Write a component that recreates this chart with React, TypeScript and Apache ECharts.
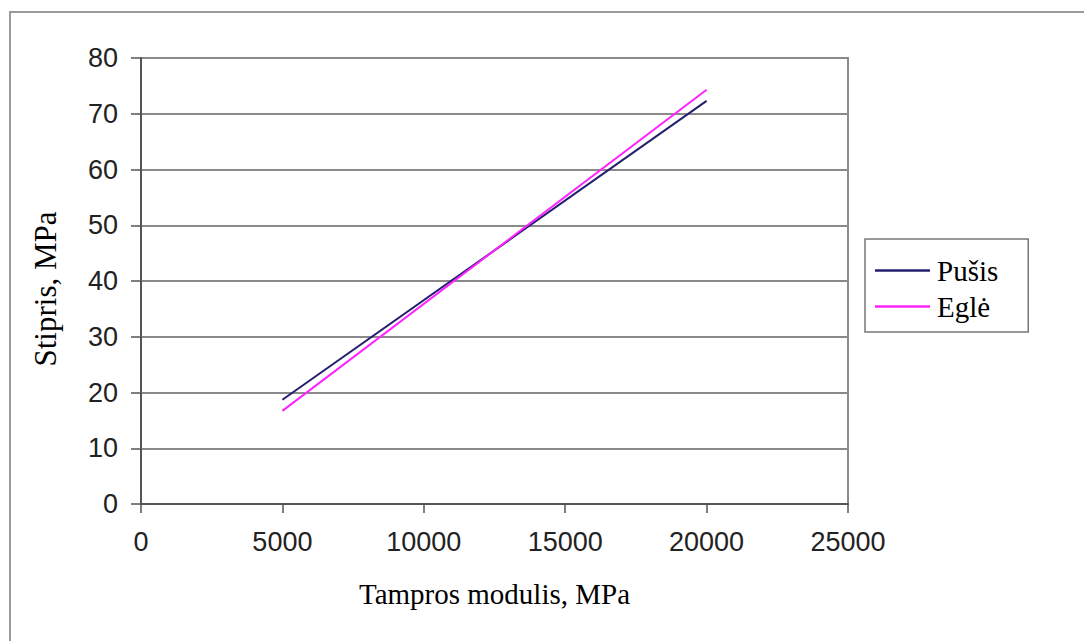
import React, { useEffect, useRef } from "react";
import * as echarts from "echarts";

const xValues = [5000, 20000];
const pusisValues = [18.7, 72.3];
const egleValues = [16.7, 74.3];
const seriesNames = ["Pušis", "Eglė"];
const seriesColors = ["#22206e", "#ff22ff"];

export default function App() {
  const ref = useRef<HTMLDivElement>(null);
  useEffect(() => {
    if (!ref.current) return;
    const chart = echarts.init(ref.current, null, { renderer: "svg" });
    const toPairs = (ys: number[]) => xValues.map((x, i) => [x, ys[i]]);
    chart.setOption({
      animation: false,
      backgroundColor: "#ffffff",
      graphic: [
        {
          type: "rect",
          shape: { x: 10, y: 12, width: 1200, height: 800 },
          style: { fill: "none", stroke: "#9a9a9a", lineWidth: 2 },
          silent: true,
        },
      ],
      grid: {
        left: 141,
        right: 236,
        top: 58,
        bottom: 137,
        show: true,
        borderColor: "#8a8a8a",
        borderWidth: 2,
        backgroundColor: "transparent",
      },
      legend: {
        orient: "vertical",
        left: 865,
        top: 239,
        data: seriesNames.map((n) => ({ name: n, icon: "rect" })),
        itemWidth: 55,
        itemHeight: 2.5,
        itemGap: 7,
        padding: [17, 30, 11, 10],
        borderColor: "#777",
        borderWidth: 1.5,
        textStyle: {
          fontFamily: "Liberation Serif",
          fontSize: 29,
          color: "#000",
          lineHeight: 28,
          padding: [0, 0, 0, 2],
        },
      },
      xAxis: {
        type: "value",
        min: 0,
        max: 25000,
        interval: 5000,
        name: "Tampros modulis, MPa",
        nameLocation: "middle",
        nameGap: 75,
        nameTextStyle: { fontFamily: "Liberation Serif", fontSize: 29, color: "#000" },
        axisLine: { show: true, onZero: false, lineStyle: { color: "#555", width: 2 } },
        axisTick: { show: true, length: 9, lineStyle: { color: "#555", width: 1.5 } },
        axisLabel: {
          fontFamily: "Liberation Sans",
          fontSize: 27,
          color: "#222",
          margin: 24,
          formatter: (v: number) => String(v),
        },
        splitLine: { show: false },
      },
      yAxis: {
        type: "value",
        min: 0,
        max: 80,
        interval: 10,
        name: "Stipris, MPa",
        nameLocation: "middle",
        nameGap: 80,
        nameRotate: 90,
        nameTextStyle: {
          fontFamily: "Liberation Serif",
          fontSize: 31,
          color: "#000",
          padding: [0, 16, 0, 0],
        },
        axisLine: { show: true, onZero: false, lineStyle: { color: "#555", width: 2 } },
        axisTick: { show: true, length: 10, lineStyle: { color: "#555", width: 1.5 } },
        axisLabel: {
          fontFamily: "Liberation Sans",
          fontSize: 27,
          color: "#222",
          margin: 23,
          formatter: (v: number) => String(v),
        },
        splitLine: { show: true, lineStyle: { color: "#8a8a8a", width: 2 } },
      },
      series: [
        {
          name: seriesNames[0],
          type: "line",
          data: toPairs(pusisValues),
          symbol: "none",
          color: seriesColors[0],
          lineStyle: { color: seriesColors[0], width: 2 },
        },
        {
          name: seriesNames[1],
          type: "line",
          data: toPairs(egleValues),
          symbol: "none",
          color: seriesColors[1],
          lineStyle: { color: seriesColors[1], width: 2 },
        },
      ],
    });
    return () => chart.dispose();
  }, []);
  return (
    <div
      ref={ref}
      style={{ position: "absolute", left: 0, top: 0, width: 1084, height: 641 }}
    />
  );
}
